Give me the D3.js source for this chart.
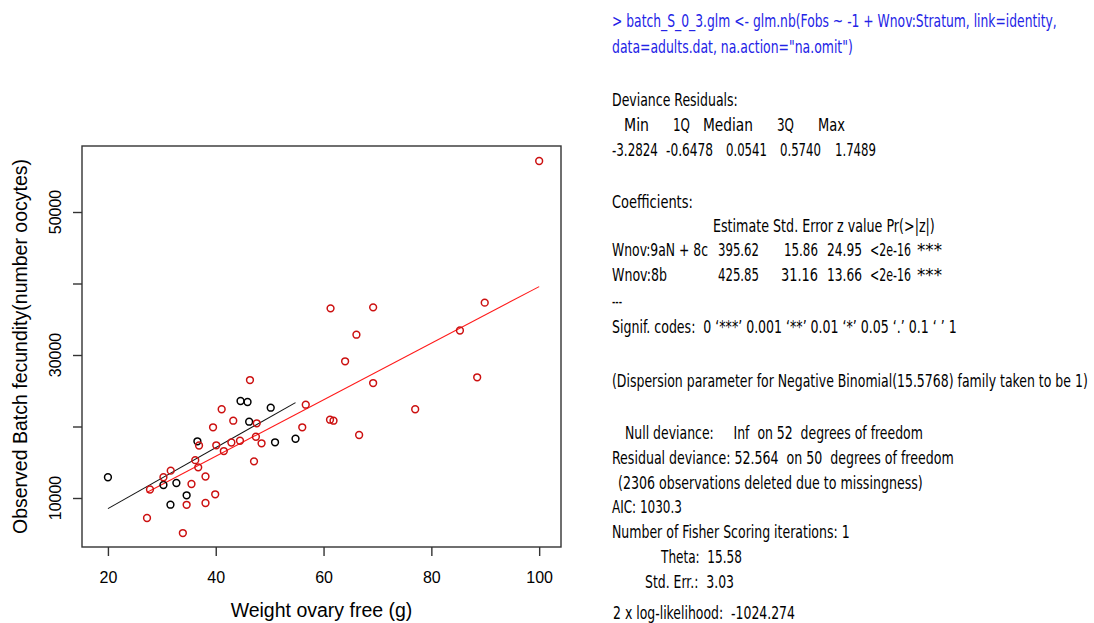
<!DOCTYPE html>
<html><head><meta charset="utf-8">
<script src="https://cdn.jsdelivr.net/npm/d3@7"></script>
<style>body{margin:0;background:#fff} svg{display:block}</style>
</head><body><svg id="c" width="1094" height="623"></svg>
<script>
// ---- data ----
const xTicks = [20, 40, 60, 80, 100];
const yTicks = [10000, 20000, 30000, 40000, 50000];
const yTickLabels = ["10000", "", "30000", "", "50000"];
// Stratum 8b (black)
const blackX = [20.0, 44.6, 45.9, 50.2, 46.2, 36.6, 51.0, 54.8, 30.3, 32.7, 34.6, 31.6];
const blackY = [12900, 23570, 23430, 22630, 20670, 17930, 17790, 18290, 11820, 12100, 10380, 9060];
// Stratum 9aN + 8c (red)
const redX = [46.35, 41.1, 56.7, 43.25, 39.5, 47.6, 56.05, 61.2, 61.85, 36.9, 40.1, 42.9, 44.5, 47.45, 48.5,
  41.5, 36.2, 36.75, 31.65, 30.3, 47.1, 38.1, 35.5, 27.8, 39.9, 38.1, 34.6, 27.25, 33.9,
  61.3, 69.2, 66.1, 64.0, 69.2, 66.6, 77.0, 88.5, 85.3, 100.0, 89.9];
const redY = [26500, 22410, 23050, 20810, 19890, 20450, 19890, 20950, 20810, 17340, 17370, 17760, 18010, 18570, 17650,
  16570, 15290, 14290, 13820, 12900, 15130, 13010, 11960, 11190, 10520, 9300, 9050, 7200, 5100,
  36530, 36670, 32840, 29120, 26080, 18810, 22410, 26880, 33430, 57130, 37320];
// fitted lines (endpoints)
const fitBlackX = [20, 54.8], fitBlackY = [8517, 23337];
const fitRedX = [27.2, 100], fitRedY = [10761, 39562];

// ---- text panel layout ----
const panel = [
  {t: "> batch_S_0_3.glm <- glm.nb(Fobs ~ -1 + Wnov:Stratum, link=identity,", x: 612, y: 27, w: 445, c: "blue"},
  {t: "data=adults.dat, na.action=\"na.omit\")", x: 612, y: 53, w: 241, c: "blue"},
  {t: "Deviance Residuals:", x: 612, y: 106, w: 126},
  {t: "Min", x: 624, y: 131, w: 25}, {t: "1Q", x: 673, y: 131, w: 17}, {t: "Median", x: 703, y: 131, w: 50},
  {t: "3Q", x: 777, y: 131, w: 17}, {t: "Max", x: 818, y: 131, w: 27},
  {t: "-3.2824", x: 612, y: 156, w: 46}, {t: "-0.6478", x: 666, y: 156, w: 47}, {t: "0.0541", x: 726, y: 156, w: 41},
  {t: "0.5740", x: 780, y: 156, w: 41}, {t: "1.7489", x: 835, y: 156, w: 41},
  {t: "Coefficients:", x: 612, y: 208, w: 81},
  {t: "Estimate Std. Error z value Pr(>|z|)", x: 713, y: 232, w: 222},
  {t: "Wnov:9aN + 8c", x: 612, y: 256, w: 96}, {t: "395.62", x: 718, y: 256, w: 41}, {t: "15.86", x: 784, y: 256, w: 34},
  {t: "24.95", x: 827, y: 256, w: 35}, {t: "<2e-16", x: 870, y: 256, w: 41}, {t: "***", x: 917, y: 256, w: 25},
  {t: "Wnov:8b", x: 612, y: 281, w: 55}, {t: "425.85", x: 718, y: 281, w: 41}, {t: "31.16", x: 781, y: 281, w: 37},
  {t: "13.66", x: 827, y: 281, w: 35}, {t: "<2e-16", x: 870, y: 281, w: 41}, {t: "***", x: 917, y: 281, w: 25},
  {t: "---", x: 612, y: 307, w: 10},
  {t: "Signif. codes:  0 \u2018***\u2019 0.001 \u2018**\u2019 0.01 \u2018*\u2019 0.05 \u2018.\u2019 0.1 \u2018 \u2019 1", x: 612, y: 333, w: 345},
  {t: "(Dispersion parameter for Negative Binomial(15.5768) family taken to be 1)", x: 612, y: 387, w: 476},
  {t: "Null deviance:     Inf  on 52  degrees of freedom", x: 625, y: 439, w: 298},
  {t: "Residual deviance: 52.564  on 50  degrees of freedom", x: 612, y: 464, w: 342},
  {t: "(2306 observations deleted due to missingness)", x: 618, y: 489, w: 305},
  {t: "AIC: 1030.3", x: 612, y: 513, w: 70},
  {t: "Number of Fisher Scoring iterations: 1", x: 612, y: 538, w: 238},
  {t: "Theta:  15.58", x: 661, y: 563, w: 81},
  {t: "Std. Err.:  3.03", x: 645, y: 588, w: 89},
  {t: "2 x log-likelihood:  -1024.274", x: 613, y: 619, w: 182}
];

const svg = d3.select("#c");
const L = 82, R = 561, T = 146, B = 547;
const x = d3.scaleLinear().domain([15.19, 104.05]).range([L, R]);
const y = d3.scaleLinear().domain([3147, 59231]).range([B, T]);

// box
svg.append("rect").attr("x", L).attr("y", T).attr("width", R - L).attr("height", B - T)
  .attr("fill", "none").attr("stroke", "#333").attr("stroke-width", 1.4);

// x axis
const gx = svg.append("g").attr("transform", `translate(0,${B})`)
  .call(d3.axisBottom(x).tickValues(xTicks).tickSize(9).tickPadding(16).tickFormat(d3.format("d")));
gx.select(".domain").remove();
gx.selectAll("line").attr("stroke", "#333").attr("stroke-width", 1.4);
gx.selectAll("text").attr("font-family", "Liberation Sans, Arial, sans-serif").attr("font-size", 16).attr("fill", "#000");

// y axis
const gy = svg.append("g").attr("transform", `translate(${L},0)`)
  .call(d3.axisLeft(y).tickValues(yTicks).tickSize(9).tickFormat(""));
gy.select(".domain").remove();
gy.selectAll("line").attr("stroke", "#333").attr("stroke-width", 1.4);
svg.append("g").selectAll("text").data(yTicks.filter((d, i) => yTickLabels[i])).join("text")
  .attr("transform", d => `translate(61,${y(d)}) rotate(-90)`)
  .attr("text-anchor", "middle").attr("font-family", "Liberation Sans, Arial, sans-serif").attr("font-size", 16)
  .text(d => yTickLabels[yTicks.indexOf(d)]);

// axis titles
svg.append("text").attr("x", (L + R) / 2).attr("y", 617).attr("text-anchor", "middle")
  .attr("font-family", "Liberation Sans, Arial, sans-serif").attr("font-size", 19.5).text("Weight ovary free (g)");
svg.append("text").attr("transform", `translate(27,${(T + B) / 2}) rotate(-90)`).attr("text-anchor", "middle")
  .attr("font-family", "Liberation Sans, Arial, sans-serif").attr("font-size", 19.5)
  .text("Observed Batch fecundity(number oocytes)");

// fitted lines
const line = d3.line().x(d => x(d[0])).y(d => y(d[1]));
svg.append("path").datum(d3.zip(fitBlackX, fitBlackY)).attr("d", line)
  .attr("fill", "none").attr("stroke", "#111").attr("stroke-width", 1.1);
svg.append("path").datum(d3.zip(fitRedX, fitRedY)).attr("d", line)
  .attr("fill", "none").attr("stroke", "#ff1a1a").attr("stroke-width", 1.1);

// points
svg.append("g").selectAll("circle").data(d3.zip(blackX, blackY)).join("circle")
  .attr("cx", d => x(d[0])).attr("cy", d => y(d[1])).attr("r", 3.4)
  .attr("fill", "none").attr("stroke", "#000").attr("stroke-width", 1.5);
svg.append("g").selectAll("circle").data(d3.zip(redX, redY)).join("circle")
  .attr("cx", d => x(d[0])).attr("cy", d => y(d[1])).attr("r", 3.4)
  .attr("fill", "none").attr("stroke", "#cc1010").attr("stroke-width", 1.5);

// text panel: measure natural width, then scale horizontally to the reference width
svg.append("g").selectAll("text").data(panel).join("text")
  .attr("x", 0).attr("y", 0)
  .attr("font-family", "Liberation Sans Narrow, Arial Narrow, DejaVu Sans Condensed, sans-serif")
  .attr("font-size", 17)
  .attr("fill", d => d.c === "blue" ? "#2323e6" : "#000")
  .style("white-space", "pre")
  .text(d => d.t)
  .each(function (d) {
    const nat = this.getComputedTextLength() || d.w;
    d3.select(this).attr("transform", `translate(${d.x},${d.y}) scale(${d.w / nat},1)`);
  });
</script></body></html>
